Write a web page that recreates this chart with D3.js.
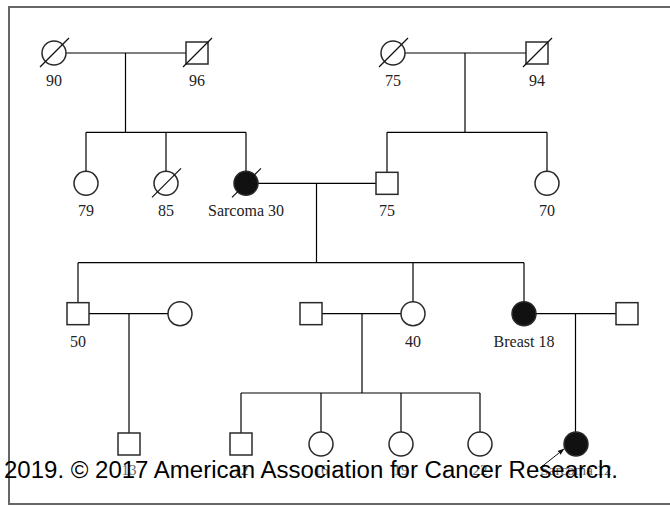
<!DOCTYPE html>
<html>
<head>
  <meta charset="utf-8">
  <title>pedigree</title>
  <script src="https://cdn.jsdelivr.net/npm/d3@7/dist/d3.min.js"></script>
  <style>
    body { margin: 0; background: #fff; }
    .link { stroke: #000; stroke-width: 1.2; fill: none; }
    .person { stroke: #2a2a2a; stroke-width: 1.5; }
    .slash { stroke: #111; stroke-width: 1.2; }
    .label { font-family: 'Liberation Serif', 'Times New Roman', serif; font-size: 16px; fill: #222; text-anchor: middle; }
    .label.small { font-size: 15px; fill: #666; }
    .note { font-family: 'Liberation Sans', Arial, sans-serif; font-size: 23.5px; fill: #000; }
  </style>
</head>
<body>
<svg id="chart" width="670" height="506"></svg>
<script>
  // people of the pedigree
  var ids      = ['gm1', 'gf1', 'gm2', 'gf2', 'a79', 'a85', 'mom', 'dad', 'a70', 'u50', 'w50', 'h40', 'a40', 'aB18', 'hB18', 'c13', 'c12', 'c16', 'c19', 'c22', 'pro'];
  var sex      = ['F', 'M', 'F', 'M', 'F', 'F', 'F', 'M', 'F', 'M', 'F', 'M', 'F', 'F', 'M', 'M', 'M', 'F', 'F', 'F', 'F'];
  var gens     = [1, 1, 1, 1, 2, 2, 2, 2, 2, 3, 3, 3, 3, 3, 3, 4, 4, 4, 4, 4, 4];
  var cols     = [5.4, 19.7, 39.3, 53.7, 8.6, 16.6, 24.6, 38.7, 54.7, 7.8, 18, 31.1, 41.3, 52.4, 62.7, 12.9, 24.1, 32.1, 40.1, 48, 57.6];
  var labels   = ['90', '96', '75', '94', '79', '85', 'Sarcoma 30', '75', '70', '50', '', '', '40', 'Breast 18', '', '13', '12', '16', '19', '22', 'Sarcoma 12'];
  var affected = ['mom', 'aB18', 'pro'];
  var deceased = ['gm1', 'gf1', 'gm2', 'gf2', 'a85', 'mom'];
  var proband  = 'pro';

  // unions: partners and their children
  var partnersA = ['gm1', 'gm2', 'mom', 'u50', 'h40', 'aB18'];
  var partnersB = ['gf1', 'gf2', 'dad', 'w50', 'a40', 'hB18'];
  var offspring = [['a79', 'a85', 'mom'], ['dad', 'a70'], ['u50', 'a40', 'aB18'], ['c13'], ['c12', 'c16', 'c19', 'c22'], ['pro']];

  var note = '2019. \u00a9 2017 American Association for Cancer Research.';

  var people = ids.map((id, i) => ({
    id: id, sex: sex[i], gen: gens[i], col: cols[i], label: labels[i],
    affected: affected.includes(id), deceased: deceased.includes(id)
  }));
  var byId = {};
  people.forEach(p => byId[p.id] = p);

  var r = 12, side = 22;

  var x = d3.scaleLinear().domain([0, 67]).range([0, 670]);
  var y = d3.scalePoint().domain([1, 2, 3, 4]).range([53, 444]);

  var svg = d3.select('#chart');

  svg.append('defs').append('marker')
    .attr('id', 'arrow')
    .attr('viewBox', '0 0 10 10')
    .attr('refX', 9).attr('refY', 5)
    .attr('markerWidth', 7).attr('markerHeight', 7)
    .attr('orient', 'auto')
    .append('path')
    .attr('d', 'M0,1.5L10,5L0,8.5Z')
    .attr('fill', '#111');

  // frame
  svg.append('rect')
    .attr('x', 9).attr('y', 7)
    .attr('width', 700).attr('height', 497)
    .attr('fill', 'none')
    .attr('stroke', '#666')
    .attr('stroke-width', 2);

  var links = svg.append('g').attr('class', 'links');

  partnersA.forEach((a, i) => {
    var pa = byId[a], pb = byId[partnersB[i]];
    var kids = offspring[i].map(k => byId[k]);
    var cy = y(pa.gen);
    var x1 = x(pa.col), x2 = x(pb.col);
    var mid = (x1 + x2) / 2;
    var ky = y(kids[0].gen);
    links.append('line').attr('class', 'link')
      .attr('x1', x1).attr('x2', x2).attr('y1', cy).attr('y2', cy);
    if (kids.length === 1) {
      links.append('line').attr('class', 'link')
        .attr('x1', mid).attr('x2', mid).attr('y1', cy).attr('y2', ky);
      return;
    }
    var sy = ky - 51;
    var kx = kids.map(k => x(k.col));
    links.append('line').attr('class', 'link')
      .attr('x1', mid).attr('x2', mid).attr('y1', cy).attr('y2', sy);
    links.append('line').attr('class', 'link')
      .attr('x1', d3.min(kx)).attr('x2', d3.max(kx)).attr('y1', sy).attr('y2', sy);
    links.selectAll(null)
      .data(kids)
      .enter()
      .append('line')
      .attr('class', 'link')
      .attr('x1', d => x(d.col)).attr('x2', d => x(d.col))
      .attr('y1', sy).attr('y2', ky);
  });

  var nodes = svg.append('g').selectAll('g')
    .data(people)
    .enter()
    .append('g')
    .attr('transform', d => 'translate(' + x(d.col) + ',' + y(d.gen) + ')');

  nodes.filter(d => d.sex === 'F')
    .append('circle')
    .attr('class', 'person')
    .attr('r', r)
    .attr('fill', d => d.affected ? '#111' : '#fff');

  nodes.filter(d => d.sex === 'M')
    .append('rect')
    .attr('class', 'person')
    .attr('x', -side / 2).attr('y', -side / 2)
    .attr('width', side).attr('height', side)
    .attr('fill', d => d.affected ? '#111' : '#fff');

  nodes.filter(d => d.deceased)
    .append('line')
    .attr('class', 'slash')
    .attr('x1', -14).attr('y1', 14)
    .attr('x2', 15).attr('y2', -15);

  nodes.append('text')
    .attr('class', d => d.gen === 4 ? 'label small' : 'label')
    .attr('y', d => d.gen === 4 ? 31 : 33)
    .text(d => d.label);

  // proband arrow
  var pro = byId[proband];
  svg.append('line')
    .attr('x1', x(pro.col) - 36).attr('y1', y(pro.gen) + 24)
    .attr('x2', x(pro.col) - 12).attr('y2', y(pro.gen) + 5)
    .attr('stroke', '#111')
    .attr('stroke-width', 1)
    .attr('marker-end', 'url(#arrow)');

  svg.append('text')
    .attr('class', 'note')
    .attr('x', 4)
    .attr('y', 478)
    .attr('textLength', 614)
    .attr('lengthAdjust', 'spacingAndGlyphs')
    .text(note);
</script>
</body>
</html>
